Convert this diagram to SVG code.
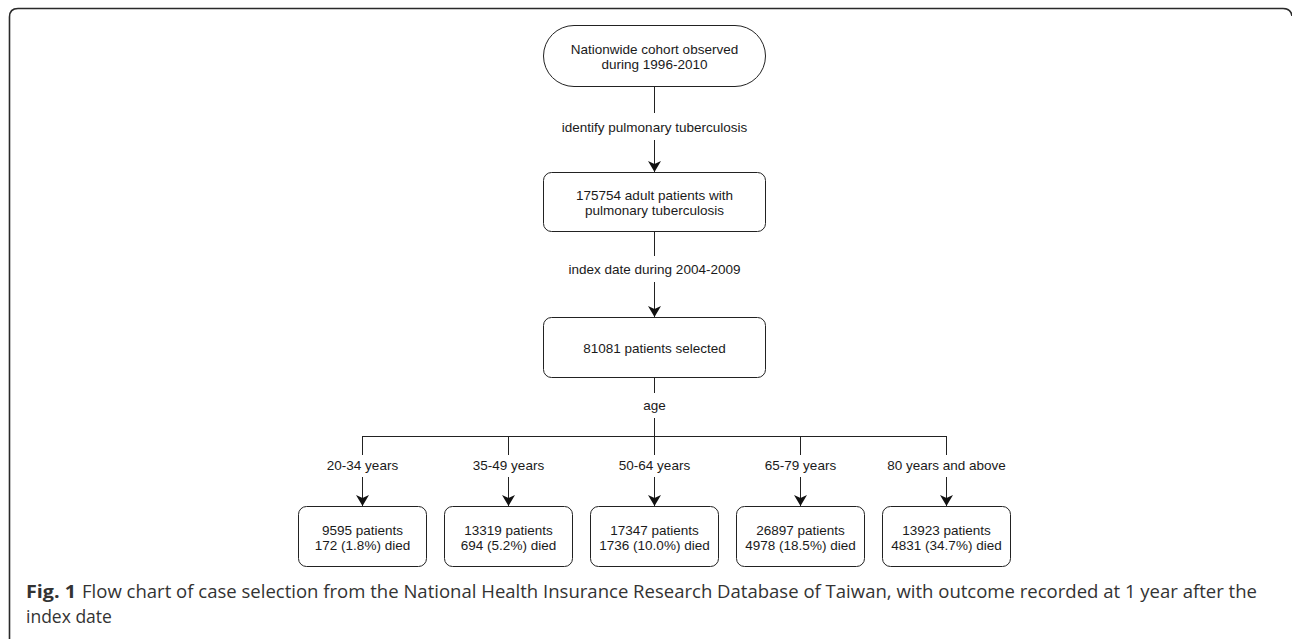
<svg xmlns="http://www.w3.org/2000/svg" width="1292" height="639" viewBox="0 0 1292 639">
<style>
.frame{fill:none;stroke:#2a2a2a;stroke-width:1.6}
.node{fill:#fff;stroke:#222;stroke-width:1}
.t{font-family:"Liberation Sans",Arial,sans-serif;font-size:13.5px;fill:#1a1a1a;text-anchor:middle}
.c{stroke:#222;stroke-width:1;fill:none}
.cap{font-family:"Open Sans","Noto Sans",sans-serif;font-size:17.5px;fill:#333}
</style>
<defs>
<marker id="arr" viewBox="0 0 11 13" refX="11" refY="6.5" markerWidth="11" markerHeight="13" orient="auto" markerUnits="userSpaceOnUse">
<path d="M0,0 L11,6.5 L0,13 L3,6.5 z" fill="#111"/>
</marker>
</defs>
<rect width="1292" height="639" fill="#fff"/>
<path class="frame" d="M9.5 640 L9.5 17 Q9.5 8.5 18 8.5 L1283 8.5 Q1291 8.5 1292 16"/>

<g id="connectors">
<line class="c" x1="654.5" y1="87" x2="654.5" y2="113"/>
<line class="c" x1="654.5" y1="140" x2="654.5" y2="172" marker-end="url(#arr)"/>
<line class="c" x1="654.5" y1="232" x2="654.5" y2="256"/>
<line class="c" x1="654.5" y1="282" x2="654.5" y2="317" marker-end="url(#arr)"/>
<line class="c" x1="654.5" y1="378" x2="654.5" y2="393"/>
<line class="c" x1="654.5" y1="418" x2="654.5" y2="436"/>
<line class="c" x1="362" y1="436.5" x2="946" y2="436.5"/>
<path class="c" d="M362.5 436 V455 M508.5 436 V455 M654.5 436 V455 M800.5 436 V455 M946.5 436 V455"/>
<line class="c" x1="362.5" y1="477" x2="362.5" y2="506" marker-end="url(#arr)"/>
<line class="c" x1="508.5" y1="477" x2="508.5" y2="506" marker-end="url(#arr)"/>
<line class="c" x1="654.5" y1="477" x2="654.5" y2="506" marker-end="url(#arr)"/>
<line class="c" x1="800.5" y1="477" x2="800.5" y2="506" marker-end="url(#arr)"/>
<line class="c" x1="946.5" y1="477" x2="946.5" y2="506" marker-end="url(#arr)"/>
<text class="t" x="654.5" y="132">identify pulmonary tuberculosis</text>
<text class="t" x="654.5" y="274">index date during 2004-2009</text>
<text class="t" x="654.5" y="410">age</text>
<text class="t" x="362.5" y="469.5">20-34 years</text>
<text class="t" x="508.5" y="469.5">35-49 years</text>
<text class="t" x="654.5" y="469.5">50-64 years</text>
<text class="t" x="800.5" y="469.5">65-79 years</text>
<text class="t" x="946.5" y="469.5">80 years and above</text>
</g>

<g id="n-cohort">
<rect class="node" x="543.5" y="25.5" width="222" height="61" rx="30.5"/>
<text class="t" x="654.5" y="54">Nationwide cohort observed</text>
<text class="t" x="654.5" y="69">during 1996-2010</text>
</g>
<g id="n-ptb">
<rect class="node" x="543.5" y="172.5" width="222" height="59" rx="8"/>
<text class="t" x="654.5" y="200">175754 adult patients with</text>
<text class="t" x="654.5" y="215">pulmonary tuberculosis</text>
</g>
<g id="n-selected">
<rect class="node" x="543.5" y="317.5" width="222" height="60" rx="8"/>
<text class="t" x="654.5" y="353">81081 patients selected</text>
</g>
<g id="n-20-34">
<rect class="node" x="298.5" y="506.5" width="128" height="60" rx="8"/>
<text class="t" x="362.5" y="534.5">9595 patients</text>
<text class="t" x="362.5" y="549.5">172 (1.8%) died</text>
</g>
<g id="n-35-49">
<rect class="node" x="444.5" y="506.5" width="128" height="60" rx="8"/>
<text class="t" x="508.5" y="534.5">13319 patients</text>
<text class="t" x="508.5" y="549.5">694 (5.2%) died</text>
</g>
<g id="n-50-64">
<rect class="node" x="590.5" y="506.5" width="128" height="60" rx="8"/>
<text class="t" x="654.5" y="534.5">17347 patients</text>
<text class="t" x="654.5" y="549.5">1736 (10.0%) died</text>
</g>
<g id="n-65-79">
<rect class="node" x="736.5" y="506.5" width="128" height="60" rx="8"/>
<text class="t" x="800.5" y="534.5">26897 patients</text>
<text class="t" x="800.5" y="549.5">4978 (18.5%) died</text>
</g>
<g id="n-80">
<rect class="node" x="882.5" y="506.5" width="128" height="60" rx="8"/>
<text class="t" x="946.5" y="534.5">13923 patients</text>
<text class="t" x="946.5" y="549.5">4831 (34.7%) died</text>
</g>

<g id="caption">
<text class="cap" x="26" y="598" font-weight="bold" fill="#222" textLength="50" lengthAdjust="spacingAndGlyphs">Fig. 1</text>
<text class="cap" x="82" y="598" textLength="1175" lengthAdjust="spacingAndGlyphs">Flow chart of case selection from the National Health Insurance Research Database of Taiwan, with outcome recorded at 1 year after the</text>
<text class="cap" x="26" y="623">index date</text>
</g>
</svg>
